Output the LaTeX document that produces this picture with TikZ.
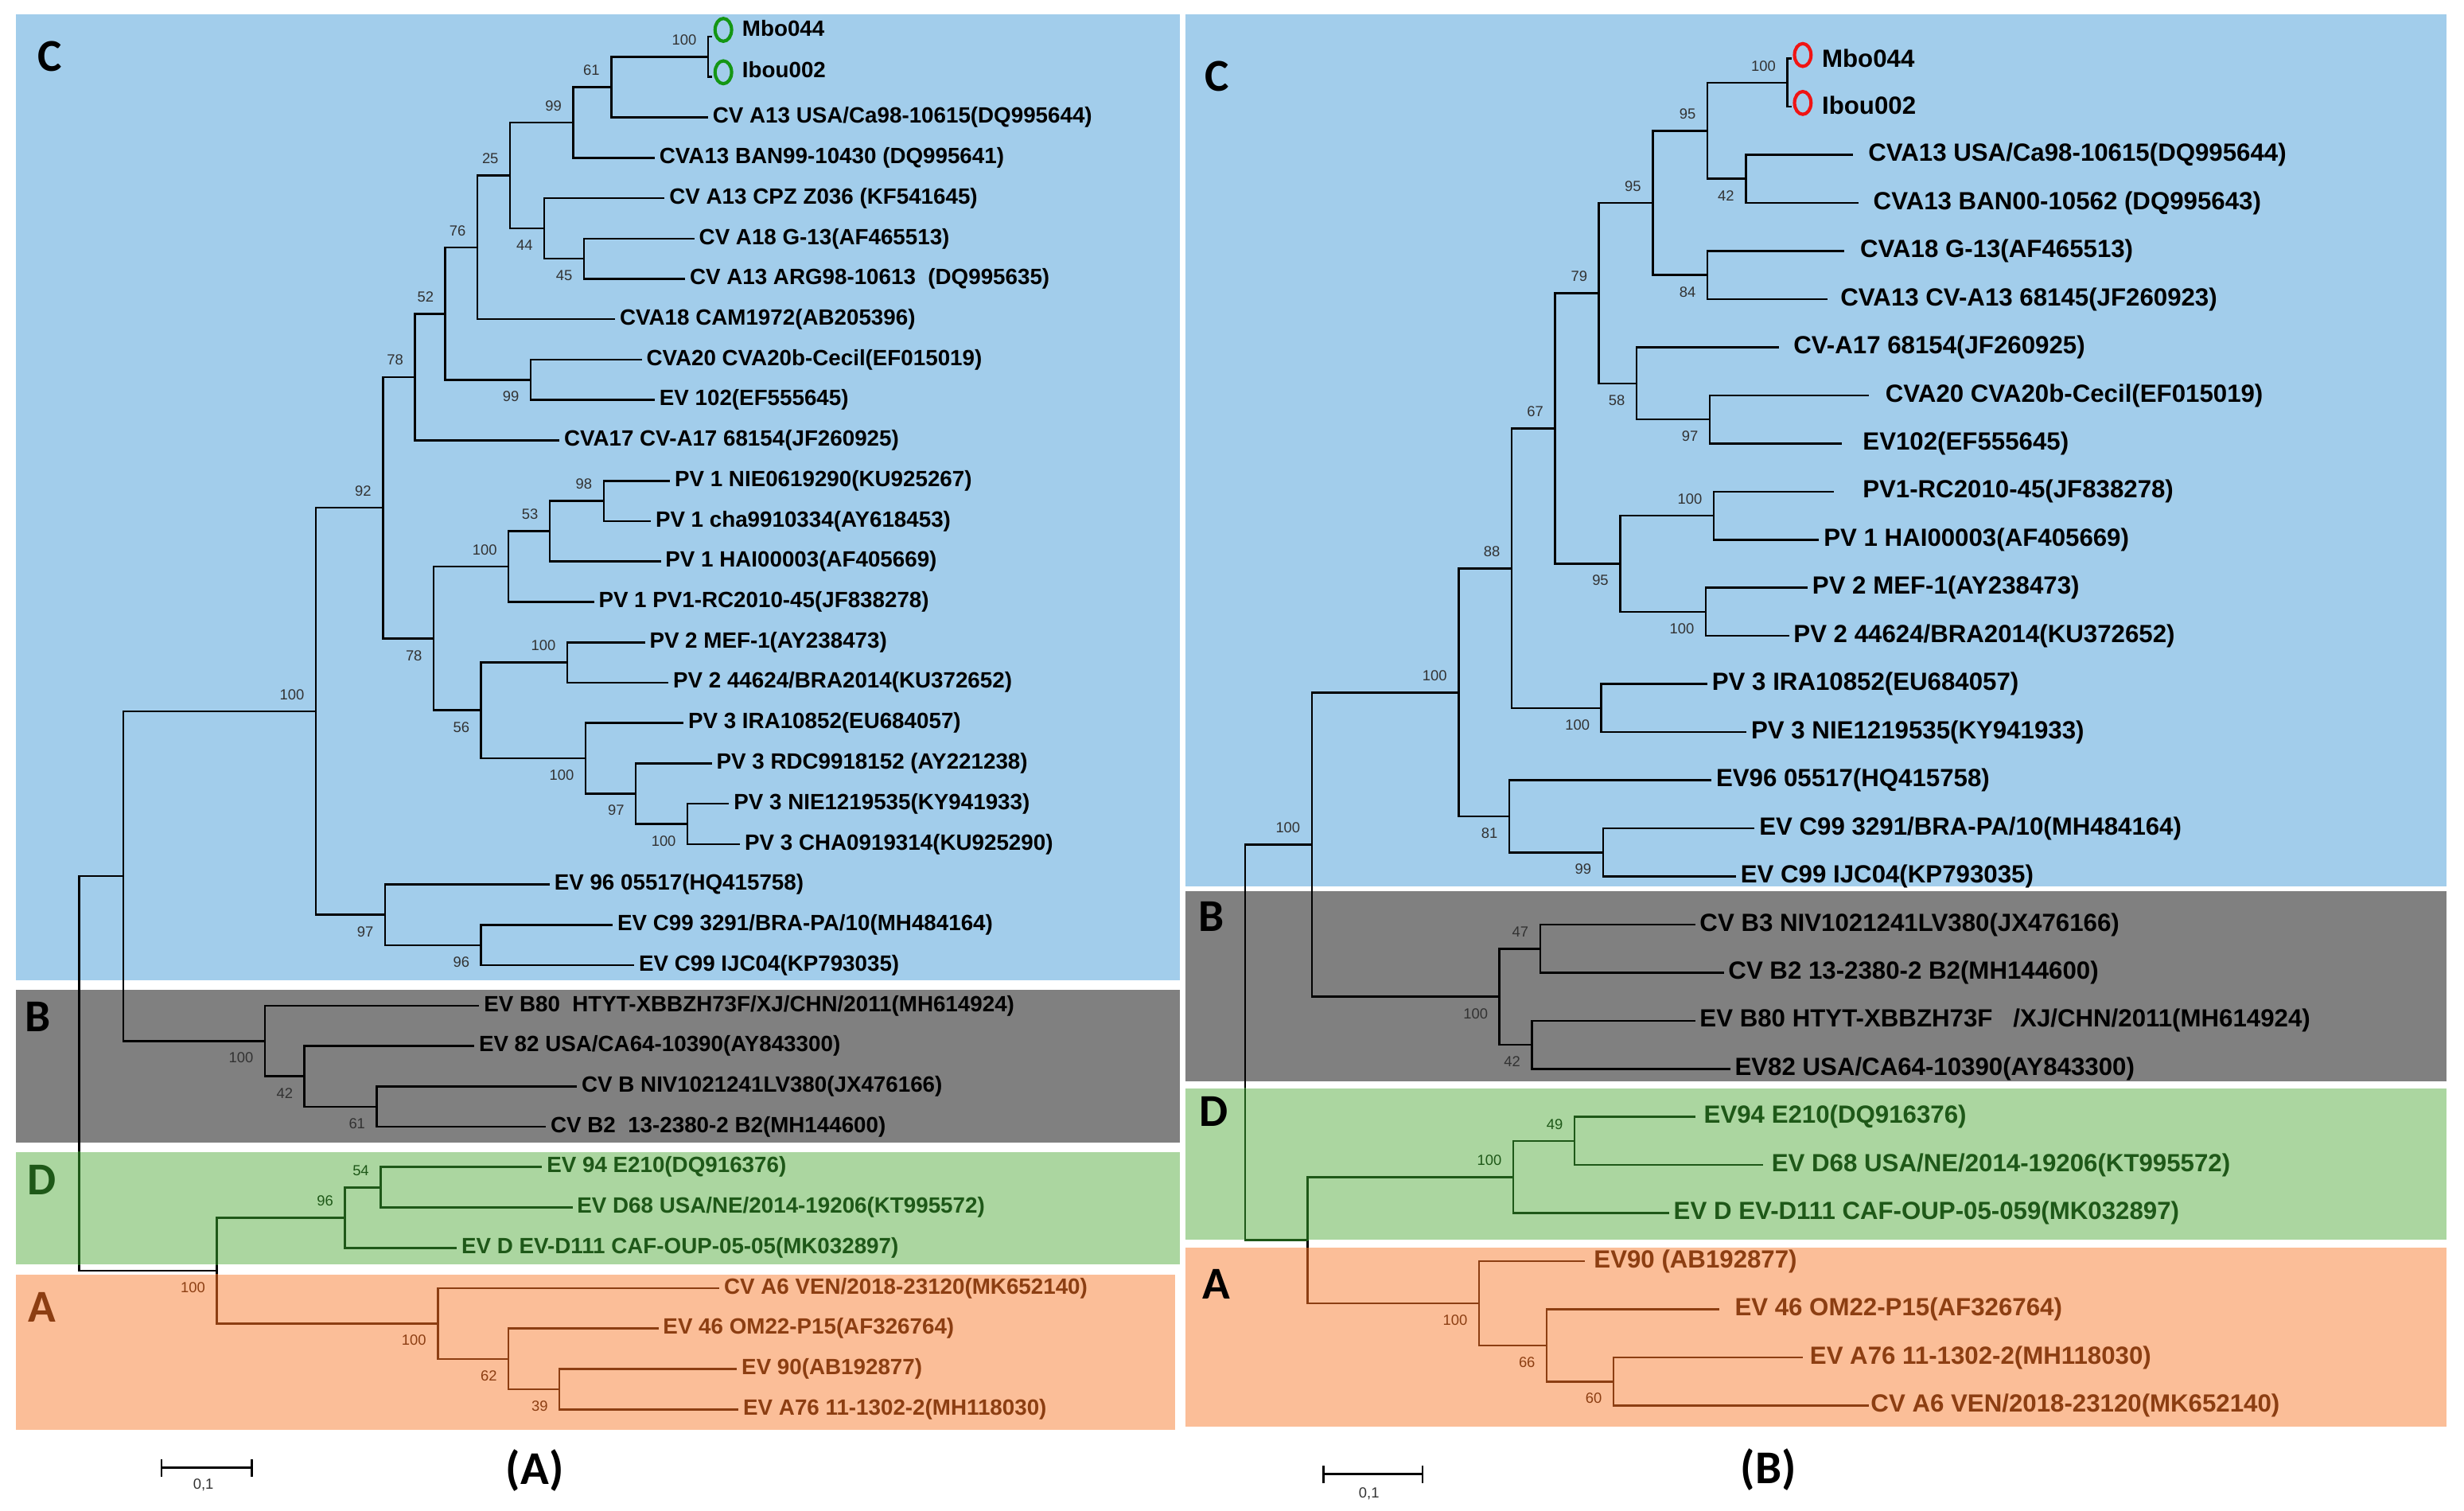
\documentclass[tikz,border=0pt]{standalone}
\usepackage{fontspec}
\setmainfont{Liberation Sans}
\newfontfamily\cladefont{Carlito}
\usetikzlibrary{shapes.geometric, arrows.meta}
\definecolor{cBlue}{RGB}{162,205,235}
\definecolor{cGray}{RGB}{128,128,128}
\definecolor{cGreen}{RGB}{171,214,160}
\definecolor{cOrange}{RGB}{251,190,152}
\definecolor{dGreen}{RGB}{30,88,24}
\definecolor{dBrown}{RGB}{140,62,18}
\definecolor{bootc}{RGB}{50,50,50}
\definecolor{ringA}{RGB}{20,150,20}
\definecolor{ringB}{RGB}{240,20,20}

\begin{document}
\begin{tikzpicture}[x=0.2mm, y=-0.2mm,
  tree/.style={line width=0.75pt},
  leafA/.style={anchor=west, inner xsep=1.5pt, inner ysep=0pt, font=\bfseries\fontsize{8}{9}\selectfont},
  leafB/.style={anchor=west, inner xsep=1.5pt, inner ysep=0pt, font=\bfseries\fontsize{9}{10}\selectfont},
  ring/.style={ellipse, draw=#1, line width=1.2pt, minimum width=2.1mm, minimum height=2.9mm, inner sep=0pt},
  clade/.style={font=\cladefont\bfseries\fontsize{16.5}{18}\selectfont},
  panel/.style={font=\cladefont\bfseries\fontsize{17}{20}\selectfont},
  boot/.style={inner sep=0pt, font=\fontsize{5.3}{6}\selectfont, text=bootc},
  label distance=2mm,
  every label/.append style={boot}]
\useasboundingbox (0,0) rectangle (1568,961);

\fill[cBlue] (10,9) rectangle (751,624);
\fill[cGray] (10,630) rectangle (751,727);
\fill[cGreen] (10,733) rectangle (751,804.5);
\fill[cOrange] (10,811) rectangle (748,910);
\fill[cBlue] (754.5,9) rectangle (1557,564);
\fill[cGray] (754.5,567) rectangle (1557,688);
\fill[cGreen] (754.5,692.6) rectangle (1557,789);
\fill[cOrange] (754.5,794) rectangle (1557,908);

\node[clade] (aLetC) at (31.5,36) {C};
\node[clade] (aLetB) at (24,647) {B};
\node[clade, text=dGreen] (aLetD) at (26.6,751) {D};
\node[clade, text=dBrown] (aLetA) at (26.6,832) {A};
\node[clade] (bLetC) at (774.4,48.5) {C};
\node[clade] (bLetB) at (770.7,583.4) {B};
\node[clade] (bLetD) at (772.5,707.2) {D};
\node[clade] (bLetA) at (774,817) {A};

\node[panel] (capA) at (340.3,935.6) {(A)};
\node[panel] (capB) at (1125.4,935.4) {(B)};

\coordinate (sbA0) at (102.2,934);
\coordinate (sbA1) at (160.9,934);
\draw[tree, {Bar[width=2.2mm]}-{Bar[width=2.2mm]}] (sbA0) -- (sbA1);
\node[boot] (sbAt) at (129.4,945) {0,1};
\coordinate (sbB0) at (841.6,938);
\coordinate (sbB1) at (905.9,938);
\draw[tree, {Bar[width=2.2mm]}-{Bar[width=2.2mm]}] (sbB0) -- (sbB1);
\node[boot] (sbBt) at (871.2,950.6) {0,1};

% tree (A)
\coordinate (at1) at (453,23.3);
\coordinate (at2) at (453,49);
\node[ring=ringA] (ac1) at (460.3,19) {};
\node[ring=ringA] (ac2) at (460.3,46) {};
\node[leafA, inner xsep=0pt] (al1) at (472,18) {Mbo044};
\node[leafA, inner xsep=0pt] (al2) at (472,44.5) {Ibou002};
\node[leafA] (al3) at (450.6,74.7) {CV A13 USA/Ca98-10615(DQ995644)};
\node[leafA] (al4) at (416.7,100.4) {CVA13 BAN99-10430 (DQ995641)};
\node[leafA] (al5) at (423,126.1) {CV A13 CPZ Z036 (KF541645)};
\node[leafA] (al6) at (441.9,151.8) {CV A18 G-13(AF465513)};
\node[leafA] (al7) at (436,177.4) {CV A13 ARG98-10613\ \ (DQ995635)};
\node[leafA] (al8) at (391.5,203.1) {CVA18 CAM1972(AB205396)};
\node[leafA] (al9) at (408.4,228.8) {CVA20 CVA20b-Cecil(EF015019)};
\node[leafA] (al10) at (416.7,254.5) {EV 102(EF555645)};
\node[leafA] (al11) at (356,280.2) {CVA17 CV-A17 68154(JF260925)};
\node[leafA] (al12) at (426.4,305.9) {PV 1 NIE0619290(KU925267)};
\node[leafA] (al13) at (414.2,331.6) {PV 1 cha9910334(AY618453)};
\node[leafA] (al14) at (420.5,357.3) {PV 1 HAI00003(AF405669)};
\node[leafA] (al15) at (378,383) {PV 1 PV1-RC2010-45(JF838278)};
\node[leafA] (al16) at (410.4,408.7) {PV 2 MEF-1(AY238473)};
\node[leafA] (al17) at (425.4,434.3) {PV 2 44624/BRA2014(KU372652)};
\node[leafA] (al18) at (435,460) {PV 3 IRA10852(EU684057)};
\node[leafA] (al19) at (453,485.7) {PV 3 RDC9918152 (AY221238)};
\node[leafA] (al20) at (464,511.4) {PV 3 NIE1219535(KY941933)};
\node[leafA] (al21) at (471,537.1) {PV 3 CHA0919314(KU925290)};
\node[leafA] (al22) at (349.8,562.8) {EV 96 05517(HQ415758)};
\node[leafA] (al23) at (390,588.5) {EV C99 3291/BRA-PA/10(MH484164)};
\node[leafA] (al24) at (403.6,614.2) {EV C99 IJC04(KP793035)};
\node[leafA] (al25) at (305,639.9) {EV B80\ \ HTYT-XBBZH73F/XJ/CHN/2011(MH614924)};
\node[leafA] (al26) at (301.8,665.6) {EV 82 USA/CA64-10390(AY843300)};
\node[leafA] (al27) at (367.2,691.3) {CV B NIV1021241LV380(JX476166)};
\node[leafA] (al28) at (347.4,717) {CV B2\ \ 13-2380-2 B2(MH144600)};

\coordinate[label=135:100] (aMI) at (450.6,36.2);
\coordinate[label=135:61] (a61) at (389,55.5);
\coordinate[label=135:99] (a99) at (364.8,78);
\coordinate[label=225:45] (a45) at (371.6,164.6);
\coordinate[label=225:44] (a44) at (346.4,145.4);
\coordinate[label=135:25] (a25) at (324.6,111.7);
\coordinate[label=135:76] (a76) at (303.8,157.4);
\coordinate[label=225:99] (a99b) at (337.7,241.7);
\coordinate[label=135:52] (a52) at (283.4,199.6);
\coordinate[label=135:78] (a78) at (264,239.9);
\coordinate[label=135:98] (a98) at (384.2,318.8);
\coordinate[label=135:53] (a53) at (349.8,338);
\coordinate[label=135:100] (aP1) at (323.6,360.5);
\coordinate[label=135:100] (aP2) at (361,421.5);
\coordinate[label=225:100] (aP3c) at (437.5,524.3);
\coordinate[label=225:97] (aP3b) at (404.6,505);
\coordinate[label=225:100] (aP3) at (372.6,482.5);
\coordinate[label=225:56] (a56) at (306.2,452);
\coordinate[label=225:78] (a78b) at (276,406.3);
\coordinate[label=135:92] (a92) at (243.7,323.1);
\coordinate[label=225:96] (a96) at (306.2,601.4);
\coordinate[label=225:97] (a97) at (245,582.1);
\coordinate[label=135:100] (aCC) at (201,452.6);
\coordinate[label=225:61] (a61b) at (239.8,704.2);
\coordinate[label=225:42] (a42) at (193.8,684.9);
\coordinate[label=225:100] (aB) at (168.6,662.4);
\coordinate (aCB) at (78.5,557.5);
\coordinate (aRoot) at (50.4,683);

\begin{scope}[text=dGreen, every label/.append style={text=dGreen}]
\node[leafA] (al29) at (345,742.6) {EV 94 E210(DQ916376)};
\node[leafA] (al30) at (364.3,768.3) {EV D68 USA/NE/2014-19206(KT995572)};
\node[leafA] (al31) at (290.7,794) {EV D EV-D111 CAF-OUP-05-05(MK032897)};
\coordinate[label=135:54] (a54) at (242.2,755.5);
\coordinate[label=135:96] (a96d) at (219.5,774.8);
\end{scope}
\begin{scope}[text=dBrown, every label/.append style={text=dBrown}]
\node[leafA] (al32) at (457.8,819.7) {CV A6 VEN/2018-23120(MK652140)};
\node[leafA] (al33) at (419,845.4) {EV 46 OM22-P15(AF326764)};
\node[leafA] (al34) at (469,871.1) {EV 90(AB192877)};
\node[leafA] (al35) at (470,896.8) {EV A76 11-1302-2(MH118030)};
\coordinate[label=225:39] (a39) at (356,884);
\coordinate[label=225:62] (a62) at (323.6,864.7);
\coordinate[label=225:100] (aA) at (278.6,842.2);
\coordinate[label=225:100] (aDA) at (138,808.5);
\end{scope}

\draw[tree] (aMI) |- (at1) (aMI) |- (at2);
\draw[tree] (a61) |- (aMI) (a61) |- (al3);
\draw[tree] (a99) |- (a61) (a99) |- (al4);
\draw[tree] (a45) |- (al6) (a45) |- (al7);
\draw[tree] (a44) |- (al5) (a44) |- (a45);
\draw[tree] (a25) |- (a99) (a25) |- (a44);
\draw[tree] (a76) |- (a25) (a76) |- (al8);
\draw[tree] (a99b) |- (al9) (a99b) |- (al10);
\draw[tree] (a52) |- (a76) (a52) |- (a99b);
\draw[tree] (a78) |- (a52) (a78) |- (al11);
\draw[tree] (a98) |- (al12) (a98) |- (al13);
\draw[tree] (a53) |- (a98) (a53) |- (al14);
\draw[tree] (aP1) |- (a53) (aP1) |- (al15);
\draw[tree] (aP2) |- (al16) (aP2) |- (al17);
\draw[tree] (aP3c) |- (al20) (aP3c) |- (al21);
\draw[tree] (aP3b) |- (al19) (aP3b) |- (aP3c);
\draw[tree] (aP3) |- (al18) (aP3) |- (aP3b);
\draw[tree] (a56) |- (aP2) (a56) |- (aP3);
\draw[tree] (a78b) |- (aP1) (a78b) |- (a56);
\draw[tree] (a92) |- (a78) (a92) |- (a78b);
\draw[tree] (a96) |- (al23) (a96) |- (al24);
\draw[tree] (a97) |- (al22) (a97) |- (a96);
\draw[tree] (aCC) |- (a92) (aCC) |- (a97);
\draw[tree] (a61b) |- (al27) (a61b) |- (al28);
\draw[tree] (a42) |- (al26) (a42) |- (a61b);
\draw[tree] (aB) |- (al25) (aB) |- (a42);
\draw[tree] (aCB) |- (aCC) (aCB) |- (aB);
\draw[tree] (aRoot) |- (aCB) (aRoot) |- (aDA);
\draw[tree] (aDA) |- (a96d) (aDA) |- (aA);
\draw[tree, dGreen] (a54) |- (al29) (a54) |- (al30);
\draw[tree, dGreen] (a96d) |- (a54) (a96d) |- (al31);
\draw[tree, dBrown] (a39) |- (al34) (a39) |- (al35);
\draw[tree, dBrown] (a62) |- (al33) (a62) |- (a39);
\draw[tree, dBrown] (aA) |- (al32) (aA) |- (a62);
\begin{scope}
\clip (10,733) rectangle (751,804.5);
\draw[tree, dGreen] (aRoot) |- (aDA) (aDA) |- (a96d);
\end{scope}
\begin{scope}
\clip (10,811) rectangle (748,910);
\draw[tree, dBrown] (aDA) |- (aA);
\end{scope}

% tree (B)
\coordinate (bt1) at (1140,37.3);
\coordinate (bt2) at (1140,67.9);
\node[ring=ringB] (bc1) at (1147.2,35) {};
\node[ring=ringB] (bc2) at (1147.2,65.5) {};
\node[leafB, inner xsep=0pt] (bl1) at (1159.1,37) {Mbo044};
\node[leafB, inner xsep=0pt] (bl2) at (1159.1,67) {Ibou002};
\node[leafB, inner xsep=5.5pt] (bl3) at (1178.9,98.5) {CVA13 USA/Ca98-10615(DQ995644)};
\node[leafB, inner xsep=5.3pt] (bl4) at (1182.5,129.1) {CVA13 BAN00-10562 (DQ995643)};
\node[leafB, inner xsep=5.5pt] (bl5) at (1173.7,159.7) {CVA18 G-13(AF465513)};
\node[leafB, inner xsep=4.6pt] (bl6) at (1162.8,190.4) {CVA13 CV-A13 68145(JF260923)};
\node[leafB, inner xsep=5pt] (bl7) at (1132.2,221) {CV-A17 68154(JF260925)};
\node[leafB, inner xsep=5.8pt] (bl8) at (1189.3,251.6) {CVA20 CVA20b-Cecil(EF015019)};
\node[leafB, inner xsep=7.4pt] (bl9) at (1172.1,282.2) {EV102(EF555645)};
\node[leafB, inner xsep=10.3pt] (bl10) at (1166.9,312.8) {PV1-RC2010-45(JF838278)};
\node[leafB] (bl11) at (1157.6,343.4) {PV 1 HAI00003(AF405669)};
\node[leafB] (bl12) at (1150.3,374) {PV 2 MEF-1(AY238473)};
\node[leafB] (bl13) at (1138.4,404.6) {PV 2 44624/BRA2014(KU372652)};
\node[leafB] (bl14) at (1086.5,435.2) {PV 3 IRA10852(EU684057)};
\node[leafB] (bl15) at (1111.4,465.8) {PV 3 NIE1219535(KY941933)};
\node[leafB] (bl16) at (1089.1,496.5) {EV96 05517(HQ415758)};
\node[leafB] (bl17) at (1116.6,527.1) {EV C99 3291/BRA-PA/10(MH484164)};
\node[leafB] (bl18) at (1104.7,557.7) {EV C99 IJC04(KP793035)};
\node[leafB] (bl19) at (1078.7,588.3) {CV B3 NIV1021241LV380(JX476166)};
\node[leafB] (bl20) at (1096.9,618.9) {CV B2 13-2380-2 B2(MH144600)};
\node[leafB] (bl21) at (1078.7,649.5) {EV B80 HTYT-XBBZH73F\ \ \ /XJ/CHN/2011(MH614924)};
\node[leafB] (bl22) at (1101,680.1) {EV82 USA/CA64-10390(AY843300)};

\coordinate[label=135:100] (bMI) at (1137.4,52.6);
\coordinate[label=225:42] (b42) at (1110.9,113.8);
\coordinate[label=135:95] (b95a) at (1086.5,83.2);
\coordinate[label=225:84] (b84) at (1086.5,175);
\coordinate[label=135:95] (b95b) at (1051.7,129.1);
\coordinate[label=225:97] (b97) at (1088,266.9);
\coordinate[label=225:58] (b58) at (1041.4,244);
\coordinate[label=135:79] (b79) at (1017.5,186.5);
\coordinate[label=135:100] (bP1) at (1090.6,328.1);
\coordinate[label=225:100] (bP2) at (1085.5,389.3);
\coordinate[label=225:95] (b95c) at (1031,358.7);
\coordinate[label=135:67] (b67) at (989.5,272.6);
\coordinate[label=225:100] (bP3) at (1019,450.5);
\coordinate[label=135:88] (b88) at (962,361.6);
\coordinate[label=225:99] (b99) at (1020.1,542.4);
\coordinate[label=225:81] (b81) at (960.4,519.5);
\coordinate[label=135:100] (bCC) at (928.2,440.6);
\coordinate[label=135:47] (b47) at (980.1,603.6);
\coordinate[label=225:42] (b42b) at (974.9,664.8);
\coordinate[label=225:100] (bB) at (954.2,634.2);
\coordinate[label=135:100] (bCB) at (834.8,537.4);
\coordinate (bDA) at (832.2,789.2);
\coordinate (bRoot) at (792.3,663.3);

\begin{scope}[text=dGreen, every label/.append style={text=dGreen}]
\node[leafB, inner xsep=3pt] (bl23) at (1078.7,710.7) {EV94 E210(DQ916376)};
\node[leafB, inner xsep=3pt] (bl24) at (1121.8,741.3) {EV D68 USA/NE/2014-19206(KT995572)};
\node[leafB] (bl25) at (1062.1,771.9) {EV D EV-D111 CAF-OUP-05-059(MK032897)};
\coordinate[label=135:49] (b49) at (1001.9,726);
\coordinate[label=135:100] (bD) at (963,749);
\end{scope}
\begin{scope}[text=dBrown, every label/.append style={text=dBrown}]
\node[leafB, inner xsep=3pt] (bl26) at (1008.7,802.5) {EV90 (AB192877)};
\node[leafB, inner xsep=5.3pt] (bl27) at (1094.3,833.1) {EV 46 OM22-P15(AF326764)};
\node[leafB, inner xsep=2.4pt] (bl28) at (1147.2,863.8) {EV A76 11-1302-2(MH118030)};
\node[leafB, inner xsep=0.5pt] (bl29) at (1189.3,894.4) {CV A6 VEN/2018-23120(MK652140)};
\coordinate[label=225:60] (b60) at (1026.8,879.1);
\coordinate[label=225:66] (b66) at (984.3,856.1);
\coordinate[label=225:100] (bA) at (941.2,829.3);
\end{scope}

\draw[tree] (bMI) |- (bt1) (bMI) |- (bt2);
\draw[tree] (b42) |- (bl3) (b42) |- (bl4);
\draw[tree] (b95a) |- (bMI) (b95a) |- (b42);
\draw[tree] (b84) |- (bl5) (b84) |- (bl6);
\draw[tree] (b95b) |- (b95a) (b95b) |- (b84);
\draw[tree] (b97) |- (bl8) (b97) |- (bl9);
\draw[tree] (b58) |- (bl7) (b58) |- (b97);
\draw[tree] (b79) |- (b95b) (b79) |- (b58);
\draw[tree] (bP1) |- (bl10) (bP1) |- (bl11);
\draw[tree] (bP2) |- (bl12) (bP2) |- (bl13);
\draw[tree] (b95c) |- (bP1) (b95c) |- (bP2);
\draw[tree] (b67) |- (b79) (b67) |- (b95c);
\draw[tree] (bP3) |- (bl14) (bP3) |- (bl15);
\draw[tree] (b88) |- (b67) (b88) |- (bP3);
\draw[tree] (b99) |- (bl17) (b99) |- (bl18);
\draw[tree] (b81) |- (bl16) (b81) |- (b99);
\draw[tree] (bCC) |- (b88) (bCC) |- (b81);
\draw[tree] (b47) |- (bl19) (b47) |- (bl20);
\draw[tree] (b42b) |- (bl21) (b42b) |- (bl22);
\draw[tree] (bB) |- (b47) (bB) |- (b42b);
\draw[tree] (bCB) |- (bCC) (bCB) |- (bB);
\draw[tree] (bRoot) |- (bCB) (bRoot) |- (bDA);
\draw[tree] (bDA) |- (bA);
\draw[tree, dGreen] (b49) |- (bl23) (b49) |- (bl24);
\draw[tree, dGreen] (bD) |- (b49) (bD) |- (bl25);
\draw[tree, dGreen] (bDA) |- (bD);
\draw[tree, dBrown] (b60) |- (bl28) (b60) |- (bl29);
\draw[tree, dBrown] (b66) |- (bl27) (b66) |- (b60);
\draw[tree, dBrown] (bA) |- (bl26) (bA) |- (b66);
\begin{scope}
\clip (754.5,692.6) rectangle (1557,790);
\draw[tree, dGreen] (bRoot) |- (bDA);
\end{scope}
\begin{scope}
\clip (754.5,794) rectangle (1557,908);
\draw[tree, dBrown] (bDA) |- (bA);
\end{scope}
\end{tikzpicture}
\end{document}
